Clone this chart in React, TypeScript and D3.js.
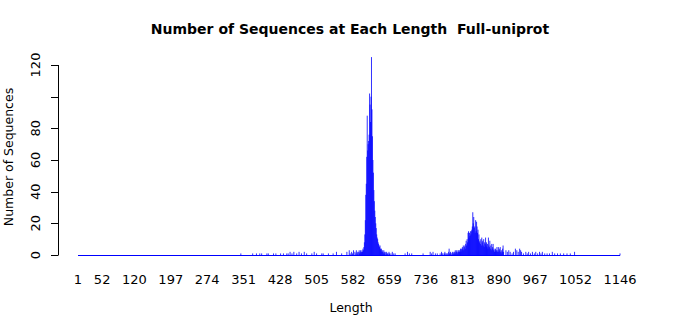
import React from "react";
import * as d3 from "d3";

// ---- data ----
const xTickLabels = [1, 52, 120, 197, 274, 351, 428, 505, 582, 659, 736, 813, 890, 967, 1052, 1146];
const yTicks = [0, 20, 40, 60, 80, 100, 120];
const yTickLabels = ["0", "20", "40", "60", "80", "", "120"];

// sparse lengths on the left tail: [length, count]
const leftTail: [number, number][] = [
  [345, 1], [370, 1], [378, 1], [385, 1], [389, 1], [400, 1], [403, 1], [414, 1], [419, 1],
  [429, 1], [435, 1], [442, 1], [445, 1], [449, 2], [453, 1], [457, 2], [463, 1], [468, 2],
  [473, 1], [479, 2], [484, 1], [495, 1], [500, 2], [505, 1], [516, 1], [519, 1], [530, 1],
  [540, 1], [547, 2], [558, 1], [569, 2], [574, 3], [576, 1], [579, 2], [581, 1], [583, 3],
];

// main peak, contiguous lengths starting at mainStart
const mainStart = 586;
const mainCounts = [
  2, 0, 1, 3, 0, 2, 1, 0, 2, 3, 1, 2, 3, 1, 2, 3, 2, 4, 3, 5, 8, 13, 22, 38, 45,
  62, 88, 66, 70, 72, 76, 102, 95, 84, 100, 125, 92, 75, 60, 52, 41, 34, 28, 24, 20,
  17, 13, 11, 10, 8, 7, 6, 5, 6, 4, 3, 4, 2, 3, 2, 1, 3, 2, 1, 2, 0, 1, 2, 0, 1,
  1, 0, 2, 1, 0,
];

// sparse lengths between the two clusters
const midTail: [number, number][] = [
  [662, 1], [665, 2], [668, 1], [671, 1], [692, 1], [697, 2], [701, 1], [706, 1],
  [730, 1], [745, 2], [748, 1], [751, 2], [756, 1], [760, 1],
];

// second cluster, contiguous lengths starting at clusterStart
const clusterStart = 766;
const clusterCounts = [
  1, 0, 0, 2, 1, 0, 1, 0, 0, 1, 2, 0, 1, 0, 1, 0, 1, 0, 2, 4,
  1, 0, 2, 1, 0, 1, 2, 0, 1, 2, 1, 2, 3, 1, 2, 3, 2, 1, 3, 2,
  3, 2, 3, 4, 2, 4, 3, 5, 4, 6, 3, 5, 6, 4, 7, 9, 6, 10, 8, 14,
  15, 11, 14, 12, 15, 13, 15, 16, 18, 27, 20, 24, 17, 18, 14, 22, 15, 21, 18, 14,
  16, 10, 13, 8, 9, 7, 10, 6, 11, 8, 9, 6, 10, 5, 8, 7, 11, 6, 8, 5,
  7, 4, 11, 6, 5, 9, 4, 6, 3, 7, 4, 5, 7, 3, 4, 2, 3, 4, 2, 3,
  5, 2, 3, 5, 2, 4, 3, 5, 2, 1, 3, 2, 4, 6, 2,
];

// sparse lengths on the right tail
const rightTail: [number, number][] = [
  [905, 3], [908, 2], [911, 3], [914, 2], [918, 1], [921, 2], [925, 4], [928, 3], [931, 2],
  [934, 4], [936, 3], [938, 2], [942, 1], [947, 2], [950, 1], [953, 2], [957, 1], [961, 2],
  [965, 1], [968, 2], [972, 1], [976, 2], [979, 1], [982, 2], [987, 1], [992, 1], [997, 1],
  [1003, 2], [1008, 1], [1014, 1], [1020, 1], [1027, 1], [1034, 1], [1041, 1], [1050, 2], [1146, 1],
];

const title = "Number of Sequences at Each Length  Full-uniprot";
const xLabel = "Length";
const yLabel = "Number of Sequences";

export default function App() {
  const W = 700, H = 315;
  const x = d3.scaleLinear().domain([1, 1146]).range([78, 620]);
  const y = d3.scaleLinear().domain([0, 120]).range([255, 65]);

  const data: [number, number][] = [
    ...leftTail,
    ...mainCounts.map((c, i) => [mainStart + i, c] as [number, number]),
    ...midTail,
    ...clusterCounts.map((c, i) => [clusterStart + i, c] as [number, number]),
    ...rightTail,
  ].filter((d) => d[1] > 0);

  const font = "DejaVu Sans, sans-serif";
  const barW = 1;

  return (
    <svg width={W} height={H} style={{ position: "absolute", left: 0, top: 0, background: "#fff" }} fontFamily={font}>
      <rect x={0} y={0} width={W} height={H} fill="#fff" />
      <text x={350} y={34} textAnchor="middle" fontWeight="bold" fontSize={14} style={{ whiteSpace: "pre" }}>{title}</text>

      {/* baseline */}
      <line x1={x(1)} x2={x(1146)} y1={y(0) + 0.5} y2={y(0) + 0.5} stroke="#0000ff" strokeWidth={1} />

      {/* bars */}
      <g fill="#0000ff" fillOpacity={0.8}>
        {data.map(([len, c], i) => (
          <rect key={i} x={x(len) - barW / 2} y={y(c)} width={barW} height={y(0) - y(c) + 0.5} />
        ))}
      </g>

      {/* y axis */}
      <line x1={58.5} x2={58.5} y1={y(0)} y2={y(120)} stroke="#000" />
      {yTicks.map((t, i) => (
        <g key={t}>
          <line x1={51} x2={58.5} y1={Math.round(y(t)) + 0.5} y2={Math.round(y(t)) + 0.5} stroke="#000" />
          {yTickLabels[i] && (
            <text transform={`translate(40,${y(t)}) rotate(-90)`} textAnchor="middle" fontSize={13}>
              {yTickLabels[i]}
            </text>
          )}
        </g>
      ))}

      {/* x tick labels */}
      {xTickLabels.map((t) => (
        <text key={t} x={x(t)} y={284} textAnchor="middle" fontSize={13}>{t}</text>
      ))}

      <text x={351} y={312} textAnchor="middle" fontSize={12.5}>{xLabel}</text>
      <text transform={`translate(13,157) rotate(-90)`} textAnchor="middle" fontSize={12.5}>{yLabel}</text>
    </svg>
  );
}
